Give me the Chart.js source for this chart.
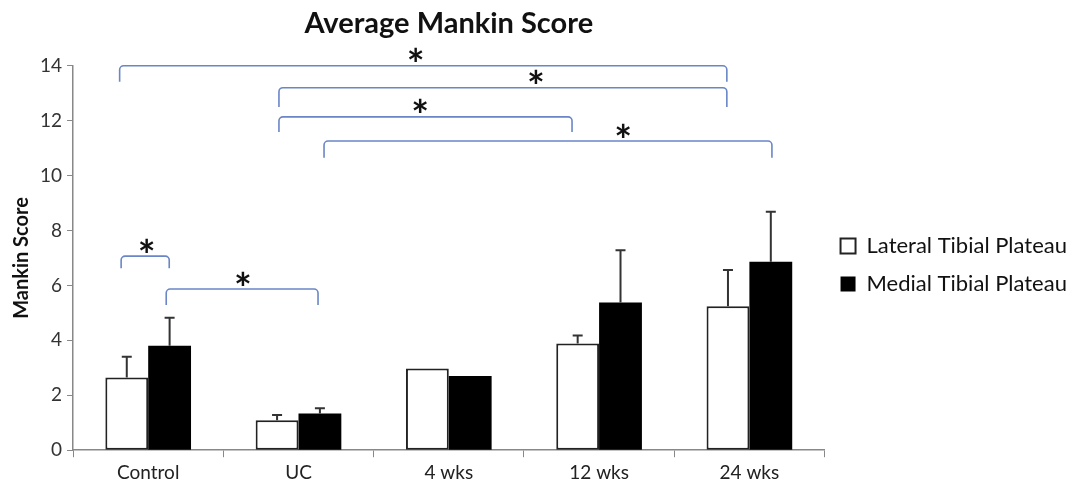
<!DOCTYPE html>
<html>
<head>
<meta charset="utf-8">
<script src="https://cdn.jsdelivr.net/npm/chart.js@4"></script>
<style>
  html, body { margin: 0; padding: 0; background: #fff; }
  #wrap { width: 1083px; height: 500px; }
</style>
</head>
<body>
<div id="wrap"><canvas id="chart" width="1083" height="500"></canvas></div>
<script>
// data
const categories = ['Control', 'UC', '4 wks', '12 wks', '24 wks'];
const lateralMeans = [2.65, 1.09, 2.98, 3.89, 5.24];
const lateralErrors = [0.75, 0.19, 0, 0.29, 1.32];
const medialMeans = [3.80, 1.34, 2.70, 5.38, 6.86];
const medialErrors = [1.02, 0.19, 0, 1.90, 1.82];

// significance brackets, in category units (x) and score units (y)
const bracketStarts = [-0.19, 0.87, 0.87, 1.17, -0.18, 0.12];
const bracketEnds = [3.85, 3.85, 2.82, 4.15, 0.14, 1.13];
const bracketLevels = [14, 13.2, 12.14, 11.26, 7.07, 5.87];
const bracketFeet = [13.42, 12.5, 11.59, 10.65, 6.63, 5.29];
const starPositions = [1.78, 2.58, 1.81, 3.16, -0.01, 0.63];

const FONT = 'Lato, "Open Sans", sans-serif';

// error bars (upper only) on top of each bar
const errorBars = {
    id: 'errorBars',
    afterDatasetsDraw(chart) {
        const ctx = chart.ctx;
        const y = chart.scales.y;
        const errs = [lateralErrors, medialErrors];
        ctx.save();
        ctx.strokeStyle = '#333';
        ctx.lineWidth = 2;
        chart.data.datasets.forEach((ds, di) => {
            const meta = chart.getDatasetMeta(di);
            meta.data.forEach((bar, i) => {
                const e = errs[di][i];
                if (!e) return;
                const top = y.getPixelForValue(ds.data[i] + e);
                ctx.beginPath();
                ctx.moveTo(bar.x, bar.y);
                ctx.lineTo(bar.x, top);
                ctx.moveTo(bar.x - 5, top);
                ctx.lineTo(bar.x + 5, top);
                ctx.stroke();
            });
        });
        ctx.restore();
    }
};

// blue brackets with asterisks
const brackets = {
    id: 'brackets',
    afterDatasetsDraw(chart) {
        const ctx = chart.ctx;
        const xs = chart.scales.x, ys = chart.scales.y;
        ctx.save();
        ctx.strokeStyle = '#6a86c6';
        ctx.lineWidth = 1.6;
        ctx.lineJoin = 'round';
        bracketStarts.forEach((s, i) => {
            const x1 = xs.getPixelForValue(s);
            const x2 = xs.getPixelForValue(bracketEnds[i]);
            const yl = ys.getPixelForValue(bracketLevels[i]);
            const yf = ys.getPixelForValue(bracketFeet[i]);
            ctx.beginPath();
            ctx.moveTo(x1, yf);
            ctx.arcTo(x1, yl, x2, yl, 4);
            ctx.arcTo(x2, yl, x2, yf, 4);
            ctx.lineTo(x2, yf);
            ctx.stroke();

            // asterisk, centred about 11px over the bracket
            ctx.fillStyle = '#111';
            ctx.font = 'bold 42px ' + FONT;
            ctx.textAlign = 'center';
            ctx.textBaseline = 'alphabetic';
            const m = ctx.measureText('*');
            const cy = yl - 11;
            const sx = xs.getPixelForValue(starPositions[i]);
            ctx.fillText('*', sx, cy + (m.actualBoundingBoxAscent - m.actualBoundingBoxDescent) / 2);
        });
        ctx.restore();
    }
};

new Chart(document.getElementById('chart'), {
    type: 'bar',
    data: {
        labels: categories,
        datasets: [{
            label: 'Lateral Tibial Plateau',
            data: lateralMeans,
            backgroundColor: '#ffffff',
            borderColor: '#222',
            borderWidth: 2,
            borderSkipped: false
        }, {
            label: 'Medial Tibial Plateau',
            data: medialMeans,
            backgroundColor: '#000000',
            borderColor: '#000000',
            borderWidth: 0
        }]
    },
    options: {
        responsive: false,
        animation: false,
        categoryPercentage: 0.57,
        barPercentage: 1,
        layout: { padding: { left: 2, right: 6, top: 6, bottom: 12 } },
        plugins: {
            title: {
                display: true,
                text: 'Average Mankin Score',
                fullSize: false,
                color: '#111',
                font: { family: FONT, size: 29, weight: 'bold' },
                padding: { top: 0, bottom: 25 }
            },
            legend: {
                position: 'right',
                // blank title only pushes the two items down a little
                title: { display: true, text: ' ', font: { size: 10 }, padding: 12 },
                labels: {
                    color: '#111',
                    font: { family: FONT, size: 22 },
                    boxWidth: 15,
                    boxHeight: 15,
                    padding: 16
                }
            },
            tooltip: { enabled: false }
        },
        scales: {
            x: {
                grid: { offset: true, drawOnChartArea: false, drawTicks: true, tickLength: 7, color: '#888' },
                border: { color: '#888', width: 1.5 },
                ticks: { color: '#222', font: { family: FONT, size: 19 }, padding: 4 }
            },
            y: {
                min: 0,
                max: 14,
                ticks: { stepSize: 2, color: '#333', font: { family: FONT, size: 19 }, padding: 5 },
                grid: { drawOnChartArea: false, drawTicks: true, tickLength: 6, color: '#888' },
                border: { color: '#888', width: 1.5 },
                title: {
                    display: true,
                    text: 'Mankin Score',
                    color: '#111',
                    font: { family: FONT, size: 20, weight: 'bold' },
                    padding: { top: 8, bottom: 1 }
                }
            }
        }
    },
    plugins: [errorBars, brackets]
});
</script>
</body>
</html>
